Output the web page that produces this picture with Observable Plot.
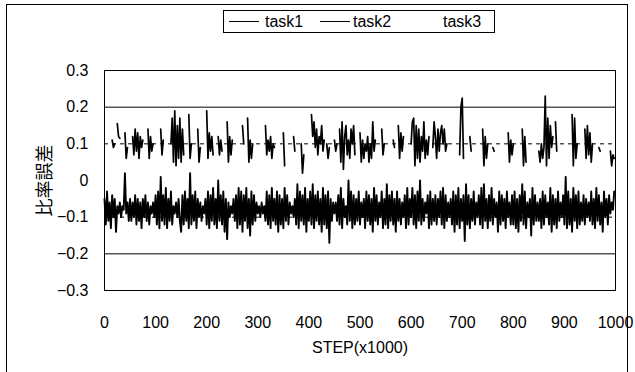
<!DOCTYPE html>
<html>
<head>
<meta charset="utf-8">
<script src="https://cdn.jsdelivr.net/npm/d3@7"></script>
<script src="https://cdn.jsdelivr.net/npm/@observablehq/plot@0.6"></script>
<style>
  html, body { margin: 0; padding: 0; background: #fff; overflow: hidden; }
  #wrap { position: relative; width: 635px; height: 372px; font-family: "Liberation Sans", Arial, "Noto Sans CJK JP", sans-serif; }
  #frame { position: absolute; left: 6px; top: 4px; width: 620px; height: 420px; border: 1px solid #000; pointer-events: none; }
  #legend { position: absolute; left: 223px; top: 10px; width: 270px; height: 21px; border: 1px solid #000; background: #fff; font-size: 16px; color: #000; }
  #legend .item { position: absolute; top: 1px; line-height: 19px; }
  #legend .sw { position: absolute; top: 10px; height: 0; border-top: 1.5px solid #000; }
  #chart { position: absolute; left: 0; top: 0; }
</style>
</head>
<body>
<div id="wrap">
  <div id="chart"></div>
  <div id="frame"></div>
  <div id="legend">
    <div class="sw" style="left:5px;width:30px;border-top-width:1.6px"></div>
    <div class="item" style="left:41px">task1</div>
    <div class="sw" style="left:96px;width:30px;border-top-width:1px"></div>
    <div class="item" style="left:129px">task2</div>
    <div class="item" style="left:219px">task3</div>
  </div>
</div>
<script>
// STEP (x1000), one value every 2.5 steps
const steps = d3.range(0, 1000, 2.5);

// task1: lower series (ratio error)
const task1 = [
  -0.05,-0.12,-0.03,-0.11,-0.06,-0.13,-0.04,-0.10,-0.05,-0.14,-0.07,-0.09,-0.06,-0.10,-0.07,-0.08,0.02,-0.09,-0.06,-0.11,
  -0.05,-0.11,-0.06,-0.10,-0.04,-0.12,-0.05,-0.11,-0.06,-0.13,-0.05,-0.10,-0.04,-0.11,-0.06,-0.12,-0.07,-0.09,-0.06,-0.10,
  -0.04,-0.12,-0.03,-0.13,0.01,-0.11,-0.04,-0.12,-0.02,-0.13,-0.05,-0.11,-0.03,-0.12,-0.07,-0.09,-0.06,-0.10,-0.05,-0.11,
  -0.14,-0.04,-0.12,-0.03,-0.11,-0.05,-0.13,0.02,-0.12,-0.04,-0.11,-0.03,-0.13,-0.05,-0.10,-0.06,-0.11,-0.07,-0.09,-0.05,
  -0.12,-0.03,-0.13,-0.04,-0.11,-0.02,-0.12,-0.05,-0.13,0.00,-0.11,-0.04,-0.12,-0.03,-0.14,-0.05,-0.16,-0.06,-0.10,-0.07,
  -0.09,-0.05,-0.11,-0.04,-0.13,-0.02,-0.12,-0.03,-0.14,-0.04,-0.11,-0.02,-0.13,-0.05,-0.15,-0.03,-0.12,-0.04,-0.11,-0.06,
  -0.09,-0.07,-0.10,-0.06,-0.09,-0.07,-0.11,-0.03,-0.12,-0.04,-0.13,-0.02,-0.11,-0.05,-0.12,-0.03,-0.14,-0.04,-0.12,-0.05,
  -0.13,-0.02,-0.11,-0.04,-0.12,-0.06,-0.09,-0.07,-0.10,-0.05,-0.12,-0.01,-0.13,-0.03,-0.11,-0.04,-0.12,-0.02,-0.14,-0.05,
  -0.11,-0.03,-0.12,-0.01,-0.13,-0.04,-0.11,-0.03,-0.12,-0.05,-0.14,-0.02,-0.12,-0.04,-0.13,-0.03,-0.17,-0.05,-0.11,-0.06,
  -0.09,-0.06,-0.11,-0.04,-0.12,-0.02,-0.13,-0.05,-0.10,-0.07,-0.12,0.00,-0.11,-0.03,-0.13,-0.04,-0.12,-0.05,-0.11,-0.03,
  -0.12,-0.06,-0.10,-0.05,-0.13,-0.03,-0.11,-0.04,-0.12,-0.05,-0.14,-0.02,-0.11,-0.04,-0.12,-0.06,-0.10,-0.03,-0.13,-0.05,
  -0.12,-0.01,-0.13,-0.04,-0.11,-0.03,-0.12,-0.05,-0.14,-0.03,-0.11,-0.05,-0.12,-0.06,-0.10,-0.04,-0.13,-0.02,-0.12,-0.05,
  -0.10,-0.02,-0.12,-0.04,-0.13,-0.03,-0.11,0.00,-0.12,-0.05,-0.11,-0.06,-0.09,-0.04,-0.13,-0.03,-0.12,-0.05,-0.11,-0.04,
  -0.12,-0.05,-0.10,-0.03,-0.12,-0.02,-0.13,-0.04,-0.11,-0.06,-0.10,-0.05,-0.12,-0.03,-0.14,-0.04,-0.12,-0.02,-0.13,-0.05,
  -0.11,-0.04,-0.165,-0.01,-0.12,-0.04,-0.13,-0.05,-0.11,-0.03,-0.12,-0.06,-0.10,-0.04,-0.12,-0.02,-0.13,-0.01,-0.11,-0.05,
  -0.13,-0.04,-0.11,-0.02,-0.12,-0.05,-0.10,-0.06,-0.14,-0.03,-0.12,-0.04,-0.11,-0.05,-0.13,-0.03,-0.10,-0.06,-0.12,-0.04,
  -0.12,-0.03,-0.13,-0.05,-0.14,-0.04,-0.11,-0.01,-0.12,-0.03,-0.13,-0.06,-0.10,-0.05,-0.15,-0.02,-0.12,-0.04,-0.11,-0.06,
  -0.11,-0.05,-0.13,-0.03,-0.12,-0.04,-0.10,-0.06,-0.12,-0.02,-0.14,-0.04,-0.12,-0.05,-0.13,-0.03,-0.11,-0.06,-0.10,-0.04,
  -0.12,0.01,-0.13,-0.03,-0.12,-0.05,-0.14,-0.02,-0.11,-0.04,-0.13,-0.03,-0.12,-0.06,-0.11,-0.04,-0.12,-0.05,-0.10,-0.06,
  -0.11,-0.03,-0.12,-0.05,-0.13,-0.02,-0.11,-0.04,-0.12,-0.06,-0.14,-0.03,-0.10,-0.05,-0.12,-0.04,-0.09,-0.06,-0.08,-0.03
];

// task2: upper series, recorded only intermittently (null = no value)
const task2 = [
  null,null,null,null,null,null,0.11,0.09,0.10,null,0.155,0.12,0.115,null,null,null,0.13,0.06,0.09,null,
  null,null,0.12,0.07,0.14,0.08,0.13,0.06,0.12,0.09,0.11,null,null,null,0.14,0.06,0.12,0.08,0.10,null,
  null,null,null,null,0.14,0.07,0.11,null,null,null,null,null,0.10,0.17,0.05,0.19,0.04,0.15,0.06,0.17,
  0.05,0.14,0.07,null,null,null,0.18,0.06,0.10,null,null,null,null,0.14,0.05,0.09,null,null,null,null,
  0.19,0.06,0.13,0.08,0.12,0.07,null,null,null,0.12,0.07,0.11,0.08,null,null,null,0.16,0.05,0.12,0.07,
  0.11,null,null,null,null,null,null,null,0.15,0.10,null,null,0.17,0.05,0.11,0.06,0.10,null,null,null,
  null,null,null,null,null,null,0.15,0.07,0.11,0.08,0.12,0.06,0.10,0.09,null,null,null,null,null,null,
  0.13,0.04,null,null,null,null,null,null,0.12,0.08,null,null,null,null,0.10,0.02,0.07,null,null,null,
  null,null,0.18,0.12,0.16,0.09,0.14,0.07,0.12,0.10,0.15,0.08,0.11,null,0.10,0.06,0.09,null,null,null,
  0.11,0.08,0.10,null,0.14,0.05,0.16,0.03,0.12,0.15,0.07,0.11,0.06,0.14,0.10,0.15,0.07,null,null,null,
  0.13,0.05,0.11,0.06,0.10,0.08,0.12,0.05,0.10,0.06,0.16,0.08,0.11,null,null,null,null,0.14,0.07,0.10,
  null,null,null,null,null,null,0.11,0.09,null,null,0.15,0.06,0.13,0.08,0.12,null,null,null,null,null,
  0.10,0.16,0.17,0.04,0.15,0.06,0.14,0.05,0.12,0.08,0.16,0.06,0.11,0.07,0.12,null,null,0.09,0.16,0.12,
  0.06,0.14,0.08,0.13,0.15,0.10,0.14,0.08,0.10,null,null,null,null,null,null,null,null,null,0.07,0.20,
  0.225,0.06,null,null,null,null,0.12,0.08,null,null,null,null,null,null,null,null,0.14,0.04,0.12,0.06,
  0.10,null,null,null,0.09,0.08,null,null,null,null,null,null,null,null,null,null,0.13,0.05,0.11,0.07,
  0.10,null,null,null,null,null,null,0.14,0.04,0.12,0.05,null,null,null,null,null,null,null,null,null,
  0.08,0.05,0.10,0.06,0.09,0.23,0.04,0.17,0.06,0.15,0.09,0.12,null,0.16,0.08,null,null,null,null,null,
  null,null,null,null,null,null,0.18,0.04,0.17,0.06,0.10,null,null,null,null,null,0.14,0.06,0.15,0.07,
  0.13,0.05,0.10,null,null,null,null,0.09,0.08,null,null,null,null,null,null,null,0.08,0.04,0.07,0.06
];

// task3: no values drawn
const task3 = [];

const yTicks = [-0.3, -0.2, -0.1, 0, 0.1, 0.2, 0.3];
const xTicks = [0, 100, 200, 300, 400, 500, 600, 700, 800, 900, 1000];
const solidGrid = [0.2, -0.2];
const dashedGrid = [0.1, -0.1];

const rows1 = steps.map((s, i) => ({step: s, value: task1[i]}));
const rows2 = steps.map((s, i) => ({step: s, value: task2[i]}));

const chart = Plot.plot({
  width: 635,
  height: 372,
  marginLeft: 104,
  marginRight: 20,
  marginTop: 70,
  marginBottom: 82,
  style: {fontFamily: '"Liberation Sans", Arial, "Noto Sans CJK JP", sans-serif', fontSize: "16px", color: "#000", background: "#fff"},
  x: {domain: [0, 1000], ticks: xTicks, tickFormat: d => String(d), tickSize: 0, tickPadding: 26,
      label: "STEP(x1000)", labelAnchor: "center", labelOffset: 62, labelArrow: "none"},
  y: {domain: [-0.3, 0.3], ticks: yTicks, tickFormat: d => d === 0 ? "0" : d3.format(".1f")(d).replace("-", "\u2212"), tickSize: 0, tickPadding: 16,
      label: "比率誤差", labelAnchor: "center", labelOffset: 66, labelArrow: "none"},
  marks: [
    Plot.ruleY(solidGrid, {stroke: "#000", strokeWidth: 1}),
    Plot.ruleY(dashedGrid, {stroke: "#000", strokeWidth: 1, strokeDasharray: "4,4"}),
    Plot.frame({stroke: "#000", strokeWidth: 1}),
    Plot.line(rows2, {x: "step", y: "value", stroke: "#000", strokeWidth: 1.7}),
    Plot.line(rows1, {x: "step", y: "value", stroke: "#000", strokeWidth: 1.9})
  ]
});
chart.querySelectorAll('[aria-label="y-axis label"] text').forEach(t => t.setAttribute("font-size", "18"));
document.getElementById("chart").appendChild(chart);
</script>
</body>
</html>
